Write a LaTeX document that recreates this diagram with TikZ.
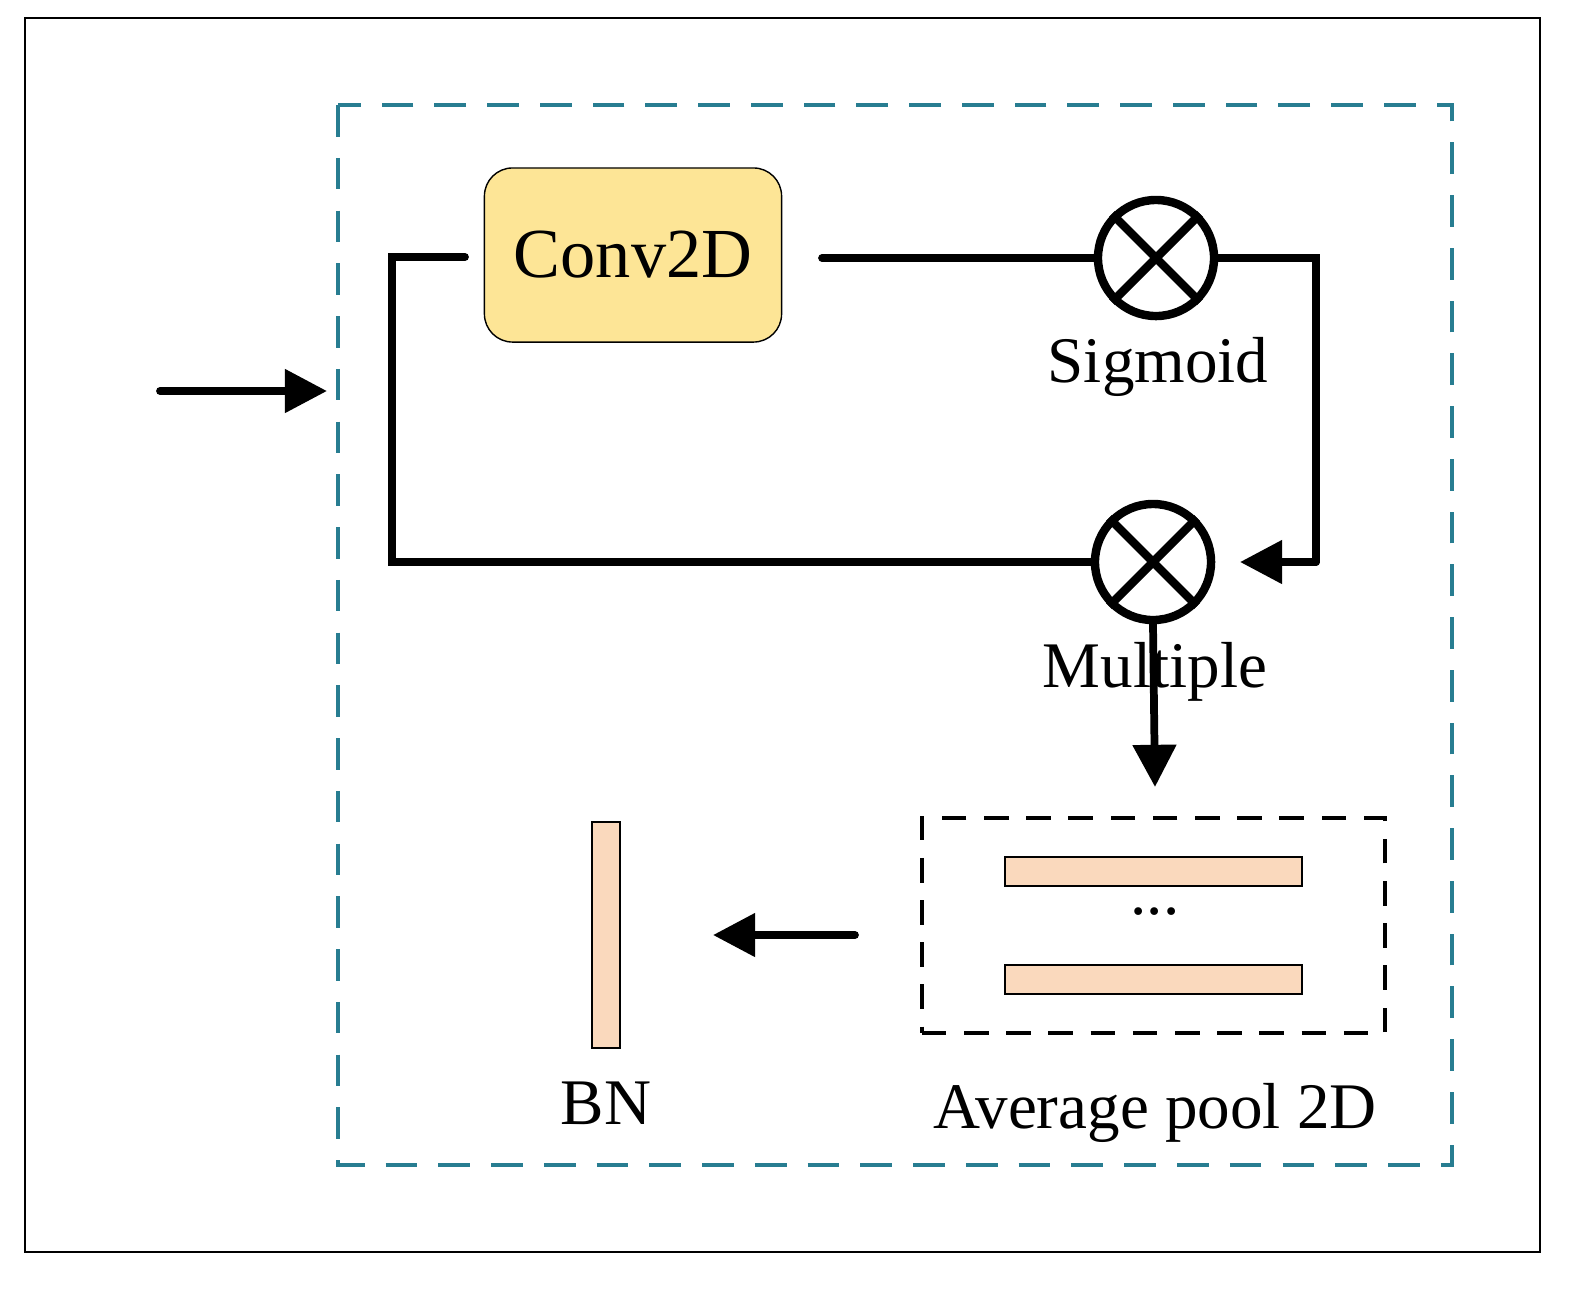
\documentclass[tikz,border=0pt]{standalone}
\usepackage{fontspec}
\setmainfont{Liberation Serif}
\usetikzlibrary{arrows.meta}
\definecolor{teal1}{RGB}{40,125,145}
\definecolor{conv}{RGB}{253,229,150}
\definecolor{bar}{RGB}{250,217,189}
\begin{document}
\begin{tikzpicture}[x=0.01cm,y=-0.01cm,
  thickl/.style={line width=2.2pt,line cap=round,line join=miter},
  arr/.style={thickl,-{Triangle[length=12pt,width=12pt]}},
  mult/.style={circle,draw,line width=2.4pt,minimum size=1.16cm,inner sep=0pt},
  lbl/.style={font=\fontsize{18.5}{22}\selectfont},
  barst/.style={draw,fill=bar,line width=0.4pt}]
\useasboundingbox (0,0) rectangle (1588,1293);
\draw[line width=0.6pt] (25,18) rectangle (1540,1252);
\draw[teal1,line width=1pt,dash pattern=on 9pt off 6pt] (338,105) rectangle (1452,1165);
\node[draw,fill=conv,rounded corners=8pt,minimum width=2.97cm,minimum height=1.74cm,font=\fontsize{20}{24}\selectfont] (conv) at (633,255) {Conv2D};
\node[mult] (sig) at (1156,258) {};
\draw[line width=2.4pt] (sig.north west)--(sig.south east) (sig.north east)--(sig.south west);
\node[mult] (mul) at (1153,562) {};
\draw[line width=2.4pt] (mul.north west)--(mul.south east) (mul.north east)--(mul.south west);
\node[lbl] (sigl) at (1158,367) {Sigmoid};
\node[lbl] (mull) at (1155,672) {Multiple};
\coordinate (a1) at (465,257);
\coordinate (c1) at (822,258);
\coordinate (r1) at (1316,258);
\coordinate (r2) at (1316,562);
\coordinate (rend) at (1240,562);
\draw[thickl] (a1) -- (392,257) -- (392,562) -- (mul.west);
\draw[thickl] (c1) -- (sig.west);
\draw[thickl] (sig.east) -- (r1) -- (r2);
\draw[arr] (r2) -- (rend);
\coordinate (in1) at (160,391);
\coordinate (in2) at (327,391);
\draw[arr] (in1) -- (in2);
\coordinate (d2) at (1155,787);
\draw[arr] (mul.south) -- (d2);
\node[draw,line width=1.2pt,dash pattern=on 7pt off 5pt,minimum width=4.63cm,minimum height=2.15cm] (pool) at (1153.5,925.5) {};
\node[barst,minimum width=2.97cm,minimum height=0.29cm,inner sep=0pt] (b1) at (1153.5,871.5) {};
\node[barst,minimum width=2.97cm,minimum height=0.29cm,inner sep=0pt] (b2) at (1153.5,979.5) {};
\node[lbl] (dots) at (1155,912) {...};
\node[barst,minimum width=0.28cm,minimum height=2.26cm,inner sep=0pt] (bn) at (606,935) {};
\node[lbl] (bnl) at (606,1103) {BN};
\node[lbl] (pl) at (1155,1113) {Average pool 2D};
\coordinate (p1) at (855,935);
\coordinate (p2) at (713,935);
\draw[arr] (p1) -- (p2);
\end{tikzpicture}
\end{document}
